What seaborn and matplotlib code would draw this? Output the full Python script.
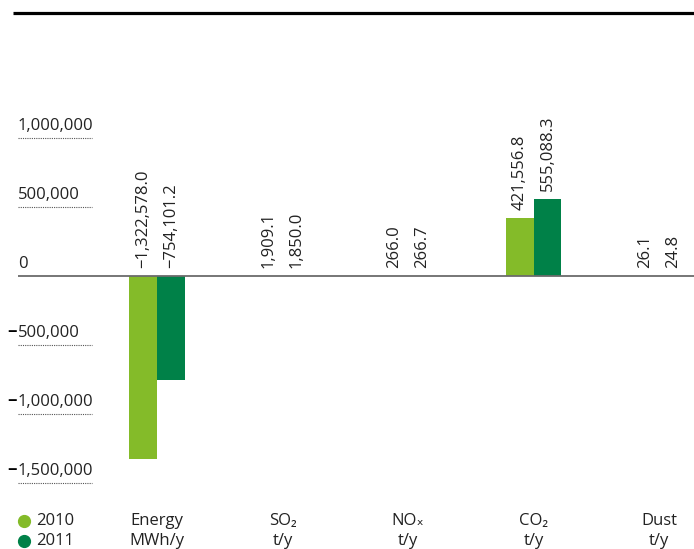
import pandas as pd
import matplotlib
matplotlib.use("Agg")
import matplotlib.pyplot as plt
import seaborn as sns
from matplotlib.lines import Line2D
from matplotlib.transforms import blended_transform_factory, offset_copy

# ---- data ----
categories = ["Energy", "SO₂", "NOₓ", "CO₂", "Dust"]
units = ["MWh/y", "t/y", "t/y", "t/y", "t/y"]
years = ["2010", "2011"]
values_2010 = [-1322578.0, 1909.1, 266.0, 421556.8, 26.1]
values_2011 = [-754101.2, 1850.0, 266.7, 555088.3, 24.8]
yticks = [1000000, 500000, 0, -500000, -1000000, -1500000]

palette = {"2010": "#84bb29", "2011": "#008148"}

df = pd.DataFrame({
    "category": categories * 2,
    "year": [years[0]] * len(categories) + [years[1]] * len(categories),
    "value": values_2010 + values_2011,
})

sns.set_theme(style="white")
plt.rcParams["font.family"] = ["Open Sans", "DejaVu Sans"]
FS = 12
TXT = "#222222"

W, H = 694, 549
fig = plt.figure(figsize=(W / 100, H / 100), dpi=100)

# plot area in pixels; 500,000 units span 69 px, zero sits at y=276
top_px, bot_px, zero_px, step_px = 60, 500, 276, 69.0
ax = fig.add_axes([0, (H - bot_px) / H, 1, (bot_px - top_px) / H])

sns.barplot(data=df, x="category", y="value", hue="year", order=categories,
            hue_order=years, palette=palette, width=0.446, saturation=1,
            legend=False, ax=ax, errorbar=None, linewidth=0)

group_px, first_px = 125.5, 157
ax.set_xlim(-first_px / group_px, (W - first_px) / group_px)
ax.set_ylim(-(bot_px - zero_px) / step_px * 5e5, (zero_px - top_px) / step_px * 5e5)
for s in ax.spines.values():
    s.set_visible(False)
ax.set_xticks([])
ax.set_yticks([])
ax.set_xlabel("")
ax.set_ylabel("")
ax.patch.set_alpha(0)

# value labels, rotated, just above the bar top (or above zero for negatives)
for cont in ax.containers:
    for bar in cont:
        val = bar.get_y() + bar.get_height() if bar.get_y() >= 0 else bar.get_y()
        x = bar.get_x() + bar.get_width() / 2
        top = max(bar.get_y() + bar.get_height(), 0)
        txt = f"{val:,.1f}".replace("-", "−")
        tr = offset_copy(ax.transData, fig=fig, x=0, y=8, units="dots")
        ax.text(x, top, txt, rotation=90, ha="center", va="bottom",
                fontsize=FS, color=TXT, transform=tr)

# y-axis labels with dotted underline
bt = blended_transform_factory(ax.transAxes, ax.transData)
x0, x1 = 18 / W, 92 / W
for t in yticks:
    lab = f"{abs(t):,}"
    tr = offset_copy(bt, fig=fig, x=0, y=8, units="dots")
    ax.text(x0, t, lab, ha="left", va="baseline", fontsize=FS, color=TXT,
            transform=tr)
    if t < 0:
        ax.text(x0 - 1 / W, t, "−", ha="right", va="baseline", fontsize=FS,
                color="#000000", fontweight="bold", transform=tr)
    if t == 0:
        ax.plot([x0, 1], [0, 0], color="#6b6b6b", lw=1.3, transform=bt,
                solid_capstyle="butt")
    else:
        ax.plot([x0, x1], [t, t], color="#555555", lw=0.8,
                linestyle=(0, (1, 1)), transform=bt)

# category labels beneath the groups
for i, (c, u) in enumerate(zip(categories, units)):
    xf = (first_px + i * group_px) / W
    fig.text(xf, 1 - 521 / H, c, ha="center", va="center", fontsize=FS, color=TXT)
    fig.text(xf, 1 - 541 / H, u, ha="center", va="center", fontsize=FS, color=TXT)

# legend
for j, y in enumerate(years):
    yf = 1 - (521 + 20 * j) / H
    fig.add_artist(Line2D([24 / W], [yf], marker="o", markersize=8.5,
                          color=palette[y], linestyle="none"))
    fig.text(36 / W, yf, y, ha="left", va="center", fontsize=FS, color=TXT)

# heavy rule across the top
fig.add_artist(Line2D([13 / W, 1], [1 - 12.5 / H] * 2, color="#000000", lw=2.3,
                      solid_capstyle="butt"))

fig.savefig("out.png", dpi=100, facecolor="white")
